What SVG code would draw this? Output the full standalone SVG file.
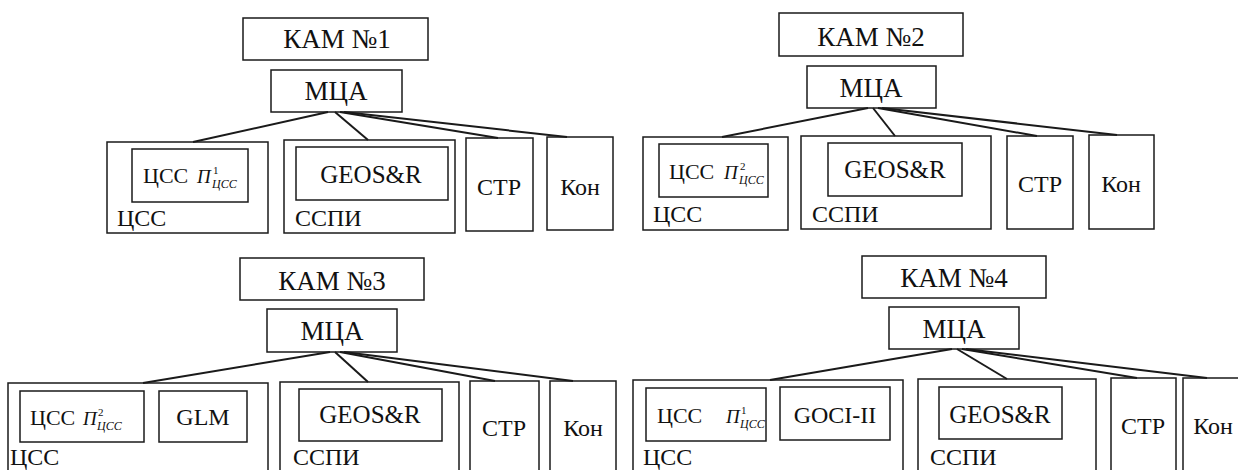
<svg xmlns="http://www.w3.org/2000/svg" width="1238" height="470" viewBox="0 0 1238 470" font-family="'Liberation Serif', 'Times New Roman', 'DejaVu Serif', serif">
<style>
rect{fill:none;stroke:#1a1a1a;stroke-width:1.5}
.c line{stroke:#1a1a1a;stroke-width:2}
text{font-family:'Liberation Serif','Times New Roman','DejaVu Serif',serif;fill:#111}
.big{font-size:27px;text-anchor:middle}
.geo{font-size:25px;text-anchor:middle}
.mid{font-size:24px;text-anchor:middle}
.lab{font-size:24px}
.in{font-size:22px}
.pi{font-size:19px;font-style:italic}
.sup{font-size:11px}
.sub{font-size:12px;font-style:italic}
</style>
<rect x="0" y="0" width="1238" height="470" style="fill:#fff;stroke:none"/>

<!-- Top-left: КАМ №1 -->
<g id="kam1"><rect x="243" y="18" width="185" height="42"/><text class="big" x="337" y="48">КАМ №1</text></g>
<g id="mca1"><rect x="271" y="70" width="131" height="42"/><text class="big" x="336" y="100">МЦА</text></g>
<g id="css1"><rect x="107" y="142" width="161" height="91"/><text class="lab" x="117" y="226">ЦСС</text></g>
<g id="cssp1"><rect x="132" y="149" width="116" height="53"/><text class="in" x="143" y="183">ЦСС</text><text class="pi" x="197" y="183">П</text><text class="sup" x="213" y="174">1</text><text class="sub" x="212" y="188">ЦСС</text></g>
<g id="sspi1"><rect x="284" y="140" width="171" height="93"/><text class="lab" x="295" y="226">ССПИ</text></g>
<g id="geos1"><rect x="296" y="147" width="152" height="53"/><text class="geo" x="371" y="183">GEOS&amp;R</text></g>
<g id="str1"><rect x="466" y="138" width="67" height="93"/><text class="mid" x="499" y="195">СТР</text></g>
<g id="kon1"><rect x="547" y="137" width="66" height="93"/><text class="mid" x="580" y="195">Кон</text></g>

<!-- Top-right: КАМ №2 -->
<g id="kam2"><rect x="779" y="13" width="184" height="43"/><text class="big" x="871" y="46">КАМ №2</text></g>
<g id="mca2"><rect x="807" y="66" width="129" height="42"/><text class="big" x="871" y="97">МЦА</text></g>
<g id="css2"><rect x="643" y="137" width="145" height="93"/><text class="lab" x="653" y="222">ЦСС</text></g>
<g id="cssp2"><rect x="659" y="144" width="109" height="53"/><text class="in" x="669" y="179">ЦСС</text><text class="pi" x="724" y="179">П</text><text class="sup" x="740" y="170">2</text><text class="sub" x="739" y="184">ЦСС</text></g>
<g id="sspi2"><rect x="801" y="136" width="190" height="93"/><text class="lab" x="812" y="222">ССПИ</text></g>
<g id="geos2"><rect x="828" y="143" width="134" height="53"/><text class="geo" x="895" y="178">GEOS&amp;R</text></g>
<g id="str2"><rect x="1007" y="136" width="66" height="93"/><text class="mid" x="1040" y="192">СТР</text></g>
<g id="kon2"><rect x="1089" y="135" width="65" height="94"/><text class="mid" x="1121" y="192">Кон</text></g>

<!-- Bottom-left: КАМ №3 -->
<g id="kam3"><rect x="240" y="258" width="184" height="42"/><text class="big" x="332" y="290">КАМ №3</text></g>
<g id="mca3"><rect x="267" y="309" width="130" height="43"/><text class="big" x="332" y="340">МЦА</text></g>
<g id="css3"><rect x="8" y="383" width="260" height="100"/><text class="lab" x="10" y="465">ЦСС</text></g>
<g id="cssp3"><rect x="20" y="391" width="124" height="51"/><text class="in" x="30" y="425">ЦСС</text><text class="pi" x="83" y="425">П</text><text class="sup" x="98" y="416">2</text><text class="sub" x="97" y="430">ЦСС</text></g>
<g id="glm3"><rect x="159" y="391" width="88" height="51"/><text class="mid" x="203" y="425">GLM</text></g>
<g id="sspi3"><rect x="280" y="382" width="179" height="100"/><text class="lab" x="293" y="465">ССПИ</text></g>
<g id="geos3"><rect x="299" y="389" width="143" height="52"/><text class="geo" x="370" y="423">GEOS&amp;R</text></g>
<g id="str3"><rect x="470" y="381" width="69" height="100"/><text class="mid" x="504" y="436">СТР</text></g>
<g id="kon3"><rect x="550" y="381" width="66" height="100"/><text class="mid" x="583" y="436">Кон</text></g>

<!-- Bottom-right: КАМ №4 -->
<g id="kam4"><rect x="862" y="256" width="184" height="42"/><text class="big" x="954" y="287">КАМ №4</text></g>
<g id="mca4"><rect x="889" y="307" width="130" height="42"/><text class="big" x="954" y="338">МЦА</text></g>
<g id="css4"><rect x="633" y="380" width="270" height="100"/><text class="lab" x="643" y="465">ЦСС</text></g>
<g id="cssp4"><rect x="646" y="388" width="120" height="53"/><text class="in" x="657" y="423">ЦСС</text><text class="pi" x="726" y="423">П</text><text class="sup" x="741" y="414">1</text><text class="sub" x="740" y="428">ЦСС</text></g>
<g id="goci4"><rect x="780" y="387" width="110" height="53"/><text class="mid" x="835" y="423">GOCI-II</text></g>
<g id="sspi4"><rect x="918" y="379" width="178" height="100"/><text class="lab" x="930" y="465">ССПИ</text></g>
<g id="geos4"><rect x="939" y="387" width="123" height="52"/><text class="geo" x="1000" y="423">GEOS&amp;R</text></g>
<g id="str4"><rect x="1111" y="378" width="65" height="100"/><text class="mid" x="1143" y="434">СТР</text></g>
<g id="kon4"><rect x="1183" y="378" width="70" height="100"/><text class="mid" x="1213" y="434">Кон</text></g>

<g id="connectors" class="c">
<line x1="328" y1="112" x2="193" y2="142"/>
<line x1="335" y1="112" x2="368" y2="140"/>
<line x1="340" y1="112" x2="498" y2="138"/>
<line x1="344" y1="112" x2="567" y2="137"/>
<line x1="868" y1="108" x2="722" y2="137"/>
<line x1="873" y1="108" x2="895" y2="136"/>
<line x1="878" y1="108" x2="1037" y2="136"/>
<line x1="882" y1="108" x2="1117" y2="135"/>
<line x1="330" y1="352" x2="143" y2="383"/>
<line x1="335" y1="352" x2="368" y2="382"/>
<line x1="340" y1="352" x2="495" y2="381"/>
<line x1="344" y1="352" x2="573" y2="381"/>
<line x1="952" y1="349" x2="770" y2="380"/>
<line x1="957" y1="349" x2="1007" y2="379"/>
<line x1="962" y1="349" x2="1137" y2="378"/>
<line x1="966" y1="349" x2="1207" y2="378"/>
</g>
</svg>
